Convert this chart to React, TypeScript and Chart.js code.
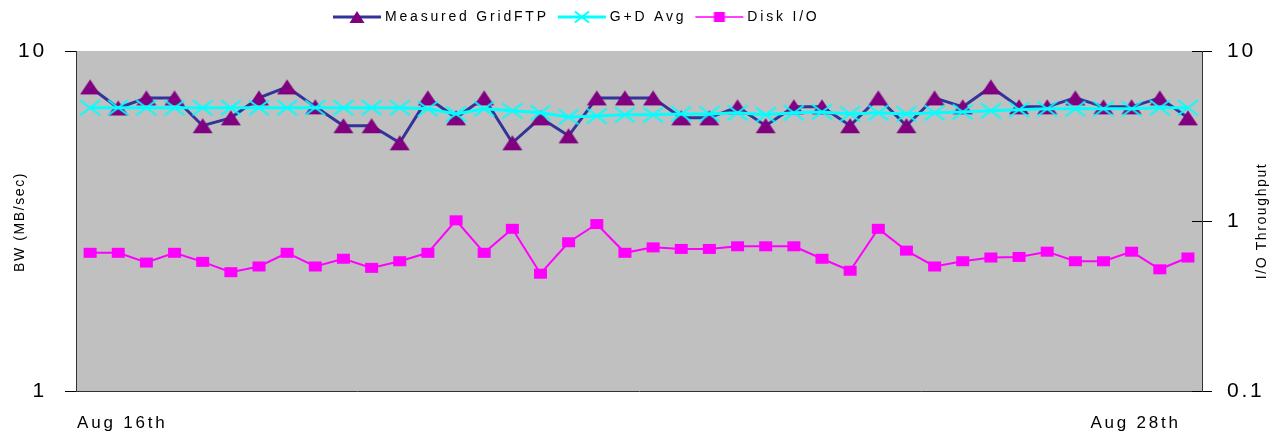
import React, { useEffect, useRef } from 'react';
import { Chart, registerables } from 'chart.js';

Chart.register(...registerables);

// ---- data ----
const xTickLabels = [
  '', 'Aug 16th', '', '', '', '', '', '', '', '',
  '', '', '', '', '', '', '', '', '', '',
  '', '', '', '', '', '', '', '', '', '',
  '', '', '', '', '', '', '', 'Aug 28th', '', '',
];
const measuredGridFTP = [
  7.84, 6.8, 7.28, 7.28, 6.03, 6.36, 7.28, 7.84, 6.85, 6.03,
  6.03, 5.37, 7.28, 6.36, 7.28, 5.37, 6.36, 5.63, 7.28, 7.28,
  7.28, 6.36, 6.36, 6.85, 6.03, 6.85, 6.85, 6.03, 7.28, 6.03,
  7.28, 6.85, 7.84, 6.85, 6.85, 7.28, 6.85, 6.85, 7.28, 6.36,
];
const gdAvg = [
  6.81, 6.81, 6.81, 6.81, 6.81, 6.81, 6.81, 6.81, 6.81, 6.81,
  6.81, 6.81, 6.76, 6.53, 6.76, 6.67, 6.58, 6.4, 6.44, 6.49,
  6.49, 6.53, 6.53, 6.58, 6.49, 6.58, 6.62, 6.53, 6.58, 6.53,
  6.58, 6.62, 6.67, 6.72, 6.76, 6.76, 6.76, 6.76, 6.81, 6.81,
];
const diskIO = [
  0.65, 0.65, 0.57, 0.65, 0.575, 0.5, 0.54, 0.65, 0.54, 0.6,
  0.53, 0.58, 0.65, 1.01, 0.65, 0.9, 0.49, 0.75, 0.96, 0.65,
  0.7, 0.685, 0.685, 0.71, 0.71, 0.71, 0.6, 0.51, 0.9, 0.67,
  0.54, 0.58, 0.61, 0.615, 0.66, 0.58, 0.58, 0.66, 0.52, 0.61,
];
const seriesNames = ['Measured GridFTP', 'G+D Avg', 'Disk I/O'];
const bwTicks = [1, 10];
const ioTicks = [0.1, 1, 10];
const leftTitle = 'BW (MB/sec)';
const rightTitle = 'I/O Throughput';

// ---- styles ----
const FONT = "'Liberation Sans', Arial, sans-serif";
const SPACING = '2.8px';
const TITLE_SPACING = '1.6px';
const NAVY = '#333399';
const PURPLE = '#800080';
const CYAN = '#00FFFF';
const MAGENTA = '#FF00FF';
const PLOT_BG = '#C0C0C0';

type Drawer = (ctx: CanvasRenderingContext2D, cx: number, cy: number, w: number, h: number) => void;

const triangle: Drawer = (ctx, cx, cy, w, h) => {
  ctx.fillStyle = PURPLE;
  ctx.beginPath();
  ctx.moveTo(cx, cy - h / 2);
  ctx.lineTo(cx + w / 2, cy + h / 2);
  ctx.lineTo(cx - w / 2, cy + h / 2);
  ctx.closePath();
  ctx.fill();
};
const cross: Drawer = (ctx, cx, cy, w, h) => {
  ctx.strokeStyle = CYAN;
  ctx.lineWidth = 2;
  ctx.beginPath();
  ctx.moveTo(cx - w / 2, cy - h / 2);
  ctx.lineTo(cx + w / 2, cy + h / 2);
  ctx.moveTo(cx + w / 2, cy - h / 2);
  ctx.lineTo(cx - w / 2, cy + h / 2);
  ctx.stroke();
};
const square: Drawer = (ctx, cx, cy, w, h) => {
  ctx.fillStyle = MAGENTA;
  ctx.fillRect(cx - w / 2, cy - h / 2, w, h);
};

function markerImage(draw: Drawer, w: number, h: number): HTMLCanvasElement {
  const c = document.createElement('canvas');
  c.width = w + 4;
  c.height = h + 4;
  const ctx = c.getContext('2d')!;
  draw(ctx, c.width / 2, c.height / 2, w, h);
  return c;
}

function legendImage(draw: Drawer, w: number, h: number, color: string, lw: number): HTMLCanvasElement {
  const c = document.createElement('canvas');
  c.width = 52;
  c.height = 18;
  const ctx = c.getContext('2d')!;
  ctx.strokeStyle = color;
  ctx.lineWidth = lw;
  ctx.beginPath();
  ctx.moveTo(3, 9);
  ctx.lineTo(51, 9);
  ctx.stroke();
  draw(ctx, 27, 9, w, h);
  return c;
}

export default function App() {
  const ref = useRef<HTMLCanvasElement>(null);

  useEffect(() => {
    document.body.style.margin = '0';
    const canvas = ref.current!;

    const markers = [markerImage(triangle, 20, 15), markerImage(cross, 20, 15), markerImage(square, 13, 10)];
    const legendImgs = [
      legendImage(triangle, 15, 12, NAVY, 3),
      legendImage(cross, 14, 11, CYAN, 3),
      legendImage(square, 11, 10, MAGENTA, 1.5),
    ];

    const setSpacing = (chart: any) => {
      (chart.ctx as any).letterSpacing = SPACING;
    };

    const customPlugin: any = {
      id: 'custom',
      afterInit: setSpacing,
      beforeUpdate: setSpacing,
      beforeLayout(chart: any) {
        setSpacing(chart);
        const lg = chart.legend;
        if (lg && !lg.__patched) {
          const orig = lg.fit;
          lg.fit = function (this: any) {
            orig.call(this);
            this.height = 51;
          };
          lg.__patched = true;
        }
      },
      afterLayout(chart: any) {
        if (chart.legend) {
          chart.legend.left = 324;
        }
      },
      beforeDraw(chart: any) {
        setSpacing(chart);
        const { ctx, chartArea } = chart;
        ctx.save();
        ctx.fillStyle = PLOT_BG;
        ctx.fillRect(chartArea.left, chartArea.top, chartArea.right - chartArea.left, chartArea.bottom - chartArea.top);
        ctx.restore();
      },
      afterDraw(chart: any) {
        const { ctx, chartArea } = chart;
        // inner halves of the right axis cross ticks
        const s = chart.scales.y1;
        ctx.save();
        ctx.strokeStyle = '#000';
        ctx.lineWidth = 1;
        ioTicks.forEach((v) => {
          const y = Math.round(s.getPixelForValue(v)) + 0.5;
          ctx.beginPath();
          ctx.moveTo(chartArea.right - 10, y);
          ctx.lineTo(chartArea.right, y);
          ctx.stroke();
        });
        // axis titles
        ctx.letterSpacing = TITLE_SPACING;
        ctx.fillStyle = '#000';
        ctx.font = `14px ${FONT}`;
        ctx.textAlign = 'center';
        ctx.textBaseline = 'middle';
        const midY = (chartArea.top + chartArea.bottom) / 2;
        ctx.save();
        ctx.translate(20, midY + 1);
        ctx.rotate(-Math.PI / 2);
        ctx.fillText(leftTitle, 0, 0);
        ctx.restore();
        ctx.save();
        ctx.translate(1262, midY);
        ctx.rotate(-Math.PI / 2);
        ctx.fillText(rightTitle, 0, 0);
        ctx.restore();
        ctx.restore();
      },
    };

    Chart.defaults.font.family = FONT;
    Chart.defaults.color = '#000';

    const chart = new Chart(canvas, {
      type: 'line',
      data: {
        labels: xTickLabels,
        datasets: [
          {
            label: seriesNames[0],
            data: measuredGridFTP,
            yAxisID: 'y',
            borderColor: NAVY,
            backgroundColor: PURPLE,
            borderWidth: 3,
            pointStyle: markers[0] as any,
            pointRadius: 8,
            tension: 0,
            fill: false,
            order: 1,
          },
          {
            label: seriesNames[1],
            data: gdAvg,
            yAxisID: 'y',
            borderColor: CYAN,
            backgroundColor: CYAN,
            borderWidth: 3,
            pointStyle: markers[1] as any,
            pointRadius: 8,
            tension: 0,
            fill: false,
            order: 0,
          },
          {
            label: seriesNames[2],
            data: diskIO,
            yAxisID: 'y1',
            borderColor: MAGENTA,
            backgroundColor: MAGENTA,
            borderWidth: 2,
            pointStyle: markers[2] as any,
            pointRadius: 6,
            tension: 0,
            fill: false,
            order: 2,
          },
        ],
      },
      options: {
        responsive: false,
        animation: false,
        events: [],
        layout: { padding: 0 },
        plugins: {
          tooltip: { enabled: false },
          title: { display: false },
          legend: {
            display: true,
            position: 'top',
            align: 'start',
            labels: {
              usePointStyle: true,
              pointStyleWidth: 44,
              padding: 10,
              color: '#000',
              font: { size: 14, family: FONT },
              generateLabels: () =>
                seriesNames.map((name, i) => ({
                  text: name,
                  pointStyle: legendImgs[i] as any,
                  fillStyle: 'rgba(0,0,0,0)',
                  strokeStyle: 'rgba(0,0,0,0)',
                  lineWidth: 0,
                  hidden: false,
                  datasetIndex: i,
                  fontColor: '#000',
                })),
            },
          },
        },
        scales: {
          x: {
            type: 'category',
            offset: true,
            grid: { display: false, drawTicks: false },
            border: { display: true, color: '#333', width: 1 },
            ticks: {
              autoSkip: false,
              maxRotation: 0,
              minRotation: 0,
              padding: 22,
              labelOffset: 4,
              color: '#000',
              font: { size: 17, family: FONT },
            },
            afterFit: (s: any) => {
              s.height = 48;
            },
          },
          y: {
            type: 'logarithmic',
            position: 'left',
            min: 1,
            max: 10,
            afterBuildTicks: (s: any) => {
              s.ticks = bwTicks.map((v) => ({ value: v }));
            },
            ticks: {
              autoSkip: false,
              padding: 18,
              color: '#000',
              font: { size: 21, family: FONT },
              callback: (v: any) => String(v),
            },
            grid: { drawOnChartArea: false, drawTicks: true, tickLength: 11, color: '#000' },
            border: { display: true, color: '#333', width: 1 },
            afterFit: (s: any) => {
              s.width = 76;
            },
          },
          y1: {
            type: 'logarithmic',
            position: 'right',
            min: 0.1,
            max: 10,
            afterBuildTicks: (s: any) => {
              s.ticks = ioTicks.map((v) => ({ value: v }));
            },
            ticks: {
              autoSkip: false,
              padding: 15,
              color: '#000',
              font: { size: 21, family: FONT },
              callback: (v: any) => String(v),
            },
            grid: { drawOnChartArea: false, drawTicks: true, tickLength: 10, color: '#000' },
            border: { display: true, color: '#333', width: 1 },
            afterFit: (s: any) => {
              s.width = 74;
            },
          },
        },
      } as any,
      plugins: [customPlugin],
    });

    return () => chart.destroy();
  }, []);

  return (
    <div style={{ width: 1276, height: 439 }}>
      <canvas ref={ref} width={1276} height={439} style={{ display: 'block' }} />
    </div>
  );
}
